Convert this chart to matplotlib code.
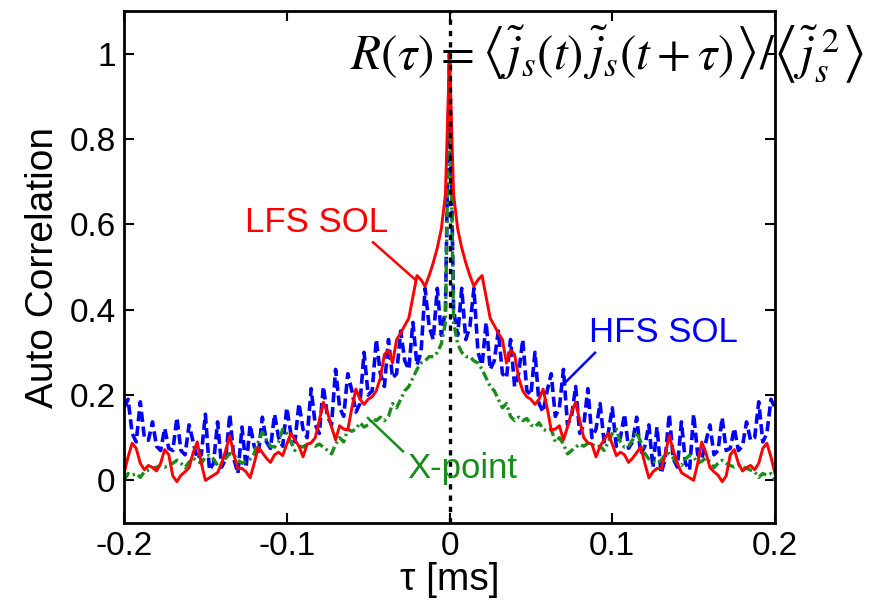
import numpy as np
import matplotlib
matplotlib.use("Agg")
import matplotlib.pyplot as plt

plt.rcParams['font.family'] = ['Liberation Sans', 'DejaVu Sans']
plt.rcParams['mathtext.fontset'] = 'stix'

# lag step in ms, one-sided lags 0 .. 0.2 ms
dt = 0.0025
n_lag = 81

# one-sided autocorrelation R(tau >= 0), the curve is even in tau
lfs_sol = [1.0, 0.67, 0.59, 0.545, 0.51, 0.48, 0.455, 0.47, 0.48, 0.43,
           0.38, 0.363, 0.345, 0.33, 0.275, 0.305, 0.295, 0.24, 0.21, 0.196,
           0.19, 0.178, 0.19, 0.214, 0.17, 0.118, 0.12, 0.128, 0.095, 0.125,
           0.16, 0.183, 0.14, 0.1, 0.088, 0.085, 0.055, 0.08, 0.095, 0.11,
           0.085, 0.058, 0.066, 0.06, 0.042, 0.052, 0.065, 0.078, 0.04, 0.006,
           0.02, 0.028, 0.027, 0.06, 0.105, 0.07, 0.04, 0.018, 0.012, 0.006,
           0.0, 0.04, 0.09, 0.065, 0.03, 0.02, 0.012, -0.003, 0.01, 0.06,
           0.072, 0.04, 0.022, 0.03, 0.035, 0.025, 0.04, 0.075, 0.087, 0.055,
           0.016]
hfs_sol = [1.0, 0.40, 0.34, 0.45, 0.33, 0.36, 0.45, 0.30, 0.27, 0.37,
           0.26, 0.28, 0.35, 0.25, 0.24, 0.33, 0.22, 0.25, 0.33, 0.21,
           0.20, 0.30, 0.18, 0.16, 0.21, 0.25, 0.15, 0.17, 0.26, 0.13,
           0.15, 0.22, 0.11, 0.13, 0.215, 0.10, 0.12, 0.18, 0.09, 0.11,
           0.17, 0.08, 0.10, 0.155, 0.075, 0.09, 0.148, 0.06, 0.08, 0.13,
           0.03, 0.125, 0.016, 0.05, 0.155, 0.05, 0.031, 0.137, 0.04, 0.024,
           0.155, 0.06, 0.05, 0.09, 0.13, 0.06, 0.07, 0.147, 0.07, 0.075,
           0.122, 0.07, 0.08, 0.137, 0.094, 0.10, 0.184, 0.09, 0.11, 0.19,
           0.17]
x_point = [1.0, 0.37, 0.32, 0.30, 0.29, 0.29, 0.28, 0.275, 0.26, 0.24,
           0.22, 0.21, 0.19, 0.17, 0.18, 0.15, 0.14, 0.148, 0.14, 0.145,
           0.13, 0.125, 0.135, 0.12, 0.115, 0.12, 0.09, 0.10, 0.085, 0.062,
           0.07, 0.078, 0.085, 0.08, 0.087, 0.085, 0.078, 0.08, 0.07, 0.09,
           0.11, 0.12, 0.09, 0.078, 0.08, 0.095, 0.113, 0.09, 0.063, 0.05,
           0.045, 0.04, 0.047, 0.06, 0.063, 0.052, 0.04, 0.035, 0.05, 0.059,
           0.055, 0.04, 0.045, 0.052, 0.043, 0.03, 0.04, 0.047, 0.04, 0.035,
           0.031, 0.035, 0.031, 0.028, 0.024, 0.02, 0.007, 0.016, 0.012, 0.016,
           0.0]

x_ticks = [-0.2, -0.1, 0, 0.1, 0.2]
y_ticks = [0, 0.2, 0.4, 0.6, 0.8, 1]
x_tick_labels = ['-0.2', '-0.1', '0', '0.1', '0.2']
y_tick_labels = ['0', '0.2', '0.4', '0.6', '0.8', '1']


def two_sided(r):
    r = np.asarray(r)
    return np.concatenate([r[:0:-1], r])


lag = np.arange(n_lag) * dt
tau = np.concatenate([-lag[:0:-1], lag])

RED = (1, 0, 0)
BLUE = (0, 0, 1)
GREEN = (0.1, 0.55, 0.1)

fig = plt.figure(figsize=(8.82, 6.02), dpi=100)
ax = fig.add_axes([0.1406, 0.1312, 0.7381, 0.8505])

ax.plot(tau, two_sided(hfs_sol), color=BLUE, lw=2.6, dashes=(2.8, 1.3))
ax.plot(tau, two_sided(x_point), color=GREEN, lw=2.4, dashes=(2.8, 1.1, 0.7, 1.1))
ax.plot(tau, two_sided(lfs_sol), color=RED, lw=2.1)
ax.axvline(0, color='k', lw=2.4, dashes=(1.6, 1.8))

# curve labels with leader lines
ax.text(-0.0814, 0.581, 'LFS SOL', color=RED, fontsize=25, ha='center', va='baseline')
ax.plot([-0.0470, -0.0212], [0.558, 0.471], color=RED, lw=1.8)
ax.text(0.1315, 0.325, 'HFS SOL', color=BLUE, fontsize=25, ha='center', va='baseline')
ax.plot([0.0894, 0.0697], [0.299, 0.224], color=BLUE, lw=1.8)
ax.text(0.008, 0.005, 'X-point', color=GREEN, fontsize=25, ha='center', va='baseline')
ax.plot([-0.0286, -0.0501], [0.068, 0.146], color=GREEN, lw=1.8)

ax.set_xlim(-0.2, 0.2)
ax.set_ylim(-0.1, 1.1)
ax.set_xticks(x_ticks)
ax.set_xticklabels(x_tick_labels)
ax.set_yticks(y_ticks)
ax.set_yticklabels(y_tick_labels)
ax.tick_params(direction='in', length=7, width=1.5, labelsize=24,
               top=True, right=True, pad=6)
for s in ax.spines.values():
    s.set_linewidth(2)
ax.set_xlabel(r'τ [ms]', fontsize=28, labelpad=0)
ax.set_ylabel('Auto Correlation', fontsize=28, labelpad=6)

fig.text(0.397, 0.909,
         r'$R(\tau)=\left\langle\tilde{j}_s(t)\,\tilde{j}_s(t+\tau)\right\rangle'
         r'/\left\langle\tilde{j}_s^{\;2}\right\rangle$',
         fontsize=35.5, ha='left', va='center')

fig.savefig('out.png', dpi=100)
